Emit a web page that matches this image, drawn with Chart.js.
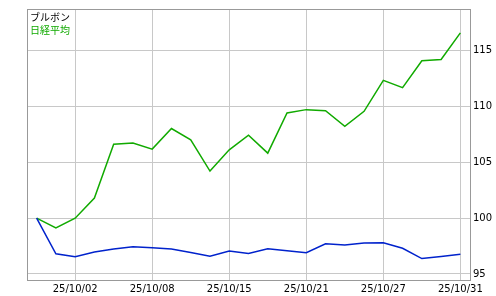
<!DOCTYPE html>
<html>
<head>
<meta charset="utf-8">
<script src="https://cdn.jsdelivr.net/npm/chart.js@4"></script>
<style>
  html, body { margin: 0; padding: 0; background: #fff; }
  #wrap { width: 496px; height: 296px; }
</style>
</head>
<body>
<div id="wrap"><canvas id="chart"></canvas></div>
<script>
const dates = ['25/09/30', '25/10/01', '25/10/02', '25/10/03', '25/10/06', '25/10/07', '25/10/08', '25/10/09',
    '25/10/10', '25/10/14', '25/10/15', '25/10/16', '25/10/17', '25/10/20', '25/10/21', '25/10/22',
    '25/10/23', '25/10/24', '25/10/27', '25/10/28', '25/10/29', '25/10/30', '25/10/31'];
const bourbon = [100.0, 96.81, 96.54, 96.96, 97.23, 97.44, 97.35, 97.23, 96.93, 96.58, 97.05, 96.84,
    97.25, 97.08, 96.9, 97.7, 97.6, 97.77, 97.8, 97.3, 96.38, 96.56, 96.76];
const nikkei = [100.0, 99.13, 100.0, 101.81, 106.63, 106.74, 106.19, 108.04, 107.02, 104.22, 106.13, 107.44,
    105.83, 109.43, 109.73, 109.64, 108.24, 109.58, 112.35, 111.7, 114.11, 114.23, 116.61];
const yTicks = [95, 100, 105, 110, 115];

const tickFont = { family: 'DejaVu Sans', size: 10 };

// legend text in the top left corner of the plot
const legendText = {
    id: 'legendText',
    afterDraw(chart) {
        const ctx = chart.ctx;
        const area = chart.chartArea;
        ctx.save();
        ctx.font = '10px "Noto Sans CJK JP"';
        ctx.textBaseline = 'middle';
        chart.data.datasets.forEach((ds, i) => {
            ctx.fillStyle = i === 0 ? '#000' : ds.borderColor;
            ctx.fillText(ds.label, area.left + 3, area.top + 8 + i * 13);
        });
        ctx.restore();
    }
};

// grey frame round the plot
const frame = {
    id: 'frame',
    beforeDatasetsDraw(chart) {
        const ctx = chart.ctx;
        const a = chart.chartArea;
        ctx.save();
        ctx.strokeStyle = '#999';
        ctx.lineWidth = 1;
        ctx.strokeRect(a.left + 0.5, a.top + 0.5, a.right - a.left, a.bottom - a.top);
        ctx.restore();
    }
};

new Chart(document.getElementById('chart'), {
    type: 'line',
    data: {
        labels: dates,
        datasets: [
            {
                label: 'ブルボン',
                data: bourbon,
                borderColor: '#0022cc',
                borderWidth: 1.5,
                pointRadius: 0,
                tension: 0
            },
            {
                label: '日経平均',
                data: nikkei,
                borderColor: '#11aa00',
                borderWidth: 1.5,
                pointRadius: 0,
                tension: 0
            }
        ]
    },
    options: {
        responsive: true,
        maintainAspectRatio: false,
        animation: false,
        layout: { padding: { left: 27, top: 8, right: 0, bottom: 0 } },
        plugins: {
            legend: { display: false },
            tooltip: { enabled: false }
        },
        scales: {
            x: {
                offset: true,
                afterFit: (scale) => { scale.height = 16; },
                grid: { offset: false, color: '#c8c8c8', drawTicks: false },
                border: { display: false },
                ticks: {
                    autoSkip: false,
                    maxRotation: 0,
                    padding: 3,
                    color: '#000',
                    font: tickFont,
                    callback: (v, i) => (i % 4 === 2 ? dates[i] : null)
                }
            },
            y: {
                position: 'right',
                min: 94.46,
                max: 118.75,
                afterFit: (scale) => { scale.width = 26; },
                afterBuildTicks: (scale) => { scale.ticks = yTicks.map(v => ({ value: v })); },
                grid: { color: '#c8c8c8', drawTicks: false },
                border: { display: false },
                ticks: {
                    padding: 3,
                    color: '#000',
                    font: tickFont
                }
            }
        }
    },
    plugins: [frame, legendText]
});
</script>
</body>
</html>
